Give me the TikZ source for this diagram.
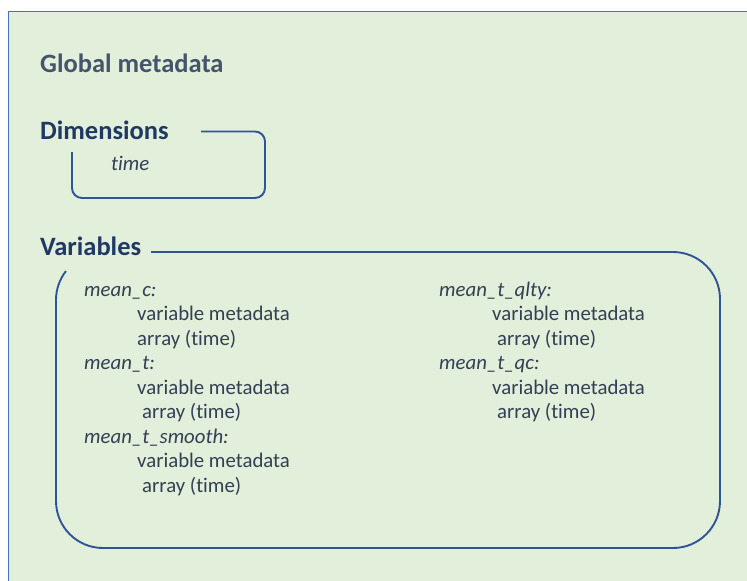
\documentclass[tikz,border=0pt]{standalone}
\usepackage{fontspec}
\setmainfont[Ligatures=NoCommon]{Carlito}
\usetikzlibrary{positioning, calc}
\definecolor{panel}{HTML}{E2EFDA}
\definecolor{frameblue}{HTML}{4472C4}
\definecolor{headgray}{HTML}{44546A}
\definecolor{headnavy}{HTML}{1F3864}
\definecolor{bodytext}{HTML}{333F55}
\definecolor{bracketblue}{HTML}{2F5597}

\begin{document}
\begin{tikzpicture}[
    x=1pt, y=-1pt,
    every node/.style={inner sep=0pt, anchor=base west, text=bodytext},
    heading/.style={font=\fontsize{26.5}{31}\selectfont\bfseries, text=headnavy},
    varname/.style={font=\fontsize{20.8}{25}\selectfont\itshape},
    varline/.style={font=\fontsize{20.8}{25}\selectfont},
    bracket/.style={draw=bracketblue, line width=1.9pt}
]
    \useasboundingbox (0,0) rectangle (747,581);

    % Panel
    \fill[panel] (8,11) rectangle (747,581);
    \draw[frameblue, line width=0.8pt] (8,581) -- (8,11) -- (747,11);

    % Headings
    \node[heading, text=headgray] (global) at (40,72) {Global metadata};
    \node[heading] (dims) at (40,139) {Dimensions};
    \node[heading] (vars) at (40,255) {Variables};

    % Dimensions bracket
    \node[varname] (dimtime) at (111,170) {time};
    \draw[bracket, rounded corners=10pt]
        (201,131.5) -- (265,131.5) -- (265,198) -- (72,198) -- (72,152);

    % Variables bracket
    \draw[bracket, rounded corners=47pt]
        (151,252) -- (720,252) -- (720,548) -- (56,548) -- (56,300);
    \draw[bracket] (56,300) arc[start angle=180, end angle=218, radius=47];

    % Left column
    \node[varname] (meanc) at (84,296) {mean\_c:};
    \node[varline] (meancmeta) at (137,320.5) {variable metadata};
    \node[varline] (meancarr) at (137,345) {array (time)};
    \node[varname] (meant) at (84,369.5) {mean\_t:};
    \node[varline] (meantmeta) at (137,394) {variable metadata};
    \node[varline] (meantarr) at (142,418.5) {array (time)};
    \node[varname] (meantsm) at (84,443) {mean\_t\_smooth:};
    \node[varline] (meantsmmeta) at (137,467.5) {variable metadata};
    \node[varline] (meantsmarr) at (142,492) {array (time)};

    % Right column
    \node[varname] (meantqlty) at (439,296) {mean\_t\_qlty:};
    \node[varline] (meantqltymeta) at (492,320.5) {variable metadata};
    \node[varline] (meantqltyarr) at (497,345) {array (time)};
    \node[varname] (meantqc) at (439,369.5) {mean\_t\_qc:};
    \node[varline] (meantqcmeta) at (492,394) {variable metadata};
    \node[varline] (meantqcarr) at (497,418.5) {array (time)};
\end{tikzpicture}
\end{document}
